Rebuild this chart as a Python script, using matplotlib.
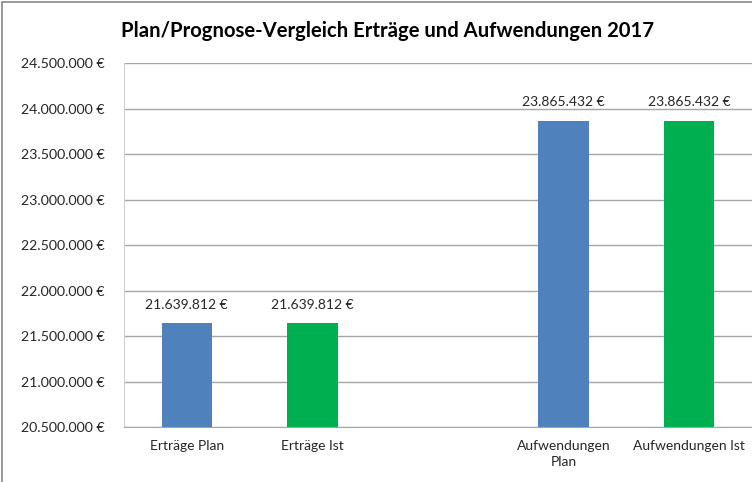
import matplotlib
matplotlib.use("Agg")
import matplotlib.pyplot as plt
from matplotlib.patches import Rectangle
import numpy as np

categories = ["Erträge Plan", "Erträge Ist", "", "Aufwendungen\nPlan", "Aufwendungen Ist"]
values = [21639812, 21639812, None, 23865432, 23865432]
colors = ["#4F81BD", "#00B050", None, "#4F81BD", "#00B050"]
yticks = [20500000, 21000000, 21500000, 22000000, 22500000, 23000000, 23500000, 24000000, 24500000]
title = "Plan/Prognose-Vergleich Erträge und Aufwendungen 2017"

plt.rcParams['font.family'] = ['Lato', 'DejaVu Sans']

def fmt(v):
    return f"{v:,.0f}".replace(",", ".") + " €"

fig = plt.figure(figsize=(7.52, 4.82), dpi=100)
W, H = 752, 482
ax = fig.add_axes([124 / W, 1 - 427 / H, (752 - 124) / W, (427 - 63) / H])

x = np.arange(len(categories))
for xi, v, c in zip(x, values, colors):
    if v is None:
        continue
    ax.bar(xi, v - yticks[0], bottom=yticks[0], width=0.4, color=c, zorder=3)
    ax.annotate(fmt(v), (xi, v), xytext=(0, 9), textcoords="offset points",
                ha="center", va="bottom", fontsize=10, color="#262626")

ax.set_xlim(-0.5, 4.5)
ax.set_ylim(yticks[0], yticks[-1])
ax.set_yticks(yticks)
ax.set_yticklabels([fmt(t) for t in yticks], fontsize=10.2, color="#262626")
ax.set_xticks(x)
ax.set_xticklabels(categories, fontsize=10, color="#262626", linespacing=1.5)
ax.tick_params(axis="both", length=0)
ax.tick_params(axis="y", pad=14)
ax.tick_params(axis="x", pad=9)
ax.grid(axis="y", color="#a6a6a6", linewidth=1, zorder=0)
ax.set_axisbelow(True)
for s in ["top", "right"]:
    ax.spines[s].set_visible(False)
ax.spines["left"].set_color("#d0d0d0")
ax.spines["bottom"].set_color("#a6a6a6")

fig.text(388 / W, 1 - 31 / H, title, ha="center", va="center",
         fontsize=14.6, fontweight="bold", color="#000000")

fig.patches.append(Rectangle((2 / W, -0.1), 1.2, 1 - 2 / H + 0.1, transform=fig.transFigure,
                             fill=False, edgecolor="#888888", linewidth=1.2))

fig.savefig("out.png", dpi=100)
